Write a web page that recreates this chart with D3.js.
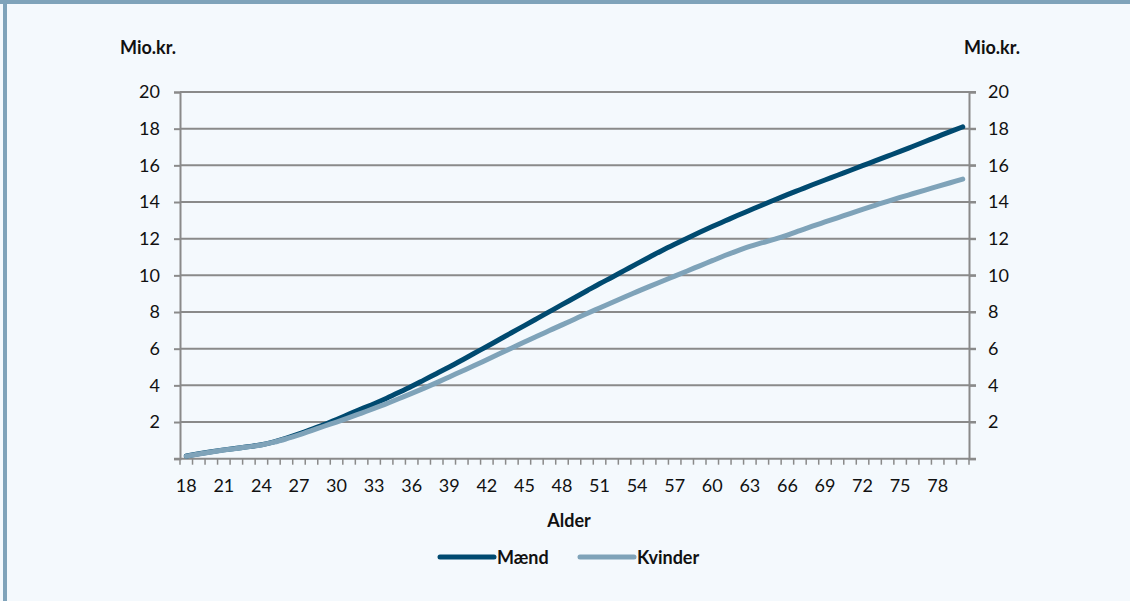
<!DOCTYPE html>
<html lang="da">
<head>
  <meta charset="UTF-8">
  <title>Mio.kr. efter alder</title>
  <script src="https://d3js.org/d3.v7.min.js"></script>
  <style>
    body {
      margin: 0;
      background: #fff;
      font-family: Lato, "Open Sans", sans-serif;
    }
    svg {
      display: block;
    }
    .tick text {
      font-family: Lato, sans-serif;
      font-size: 18px;
      fill: #111;
    }
    .title {
      font-family: Lato, sans-serif;
      font-size: 18px;
      font-weight: bold;
      fill: #111;
    }
  </style>
</head>
<body>
<svg width="1130" height="601"></svg>
<script>
  // Data
  const ages = d3.range(18, 81);
  const maend = [
    0.15, 0.27, 0.38, 0.48, 0.57, 0.66, 0.76, 0.92, 1.12, 1.35,
    1.6, 1.86, 2.14, 2.43, 2.72, 3.0, 3.3, 3.62, 3.95, 4.3,
    4.65, 5.0, 5.37, 5.75, 6.12, 6.5, 6.88, 7.26, 7.64, 8.02,
    8.4, 8.78, 9.16, 9.54, 9.9, 10.27, 10.64, 11.0, 11.36, 11.7,
    12.03, 12.35, 12.66, 12.96, 13.26, 13.55, 13.84, 14.12, 14.4, 14.67,
    14.94, 15.2, 15.46, 15.72, 15.98, 16.24, 16.5, 16.76, 17.03, 17.3,
    17.57, 17.84, 18.1
  ];
  const kvinder = [
    0.14, 0.26, 0.37, 0.47, 0.56, 0.65, 0.75, 0.9, 1.09, 1.3,
    1.53, 1.77, 2.0, 2.24, 2.49, 2.74, 3.0, 3.28, 3.56, 3.85,
    4.15, 4.46, 4.77, 5.08, 5.4, 5.72, 6.04, 6.36, 6.68, 6.99,
    7.3, 7.61, 7.92, 8.22, 8.52, 8.82, 9.11, 9.4, 9.68, 9.96,
    10.24, 10.52, 10.8, 11.08, 11.34, 11.58, 11.78, 11.98, 12.2, 12.44,
    12.68, 12.91, 13.14, 13.37, 13.6, 13.82, 14.04, 14.25, 14.45, 14.65,
    14.85, 15.05, 15.25
  ];
  const yTicks = [2, 4, 6, 8, 10, 12, 14, 16, 18, 20];
  const seriesNames = ["Mænd", "Kvinder"];
  const colors = ["#004a70", "#7fa3b9"];

  const svg = d3.select("svg");
  const W = 1130, H = 601;

  // Background panel with border
  svg.append("rect").attr("width", W).attr("height", H).attr("fill", "#f4f9fd");
  svg.append("rect").attr("x", 0).attr("y", 0).attr("width", W).attr("height", 4).attr("fill", "#7fa3ba");
  svg.append("rect").attr("x", 3).attr("y", 0).attr("width", 4).attr("height", H).attr("fill", "#7fa3ba");

  const plotL = 180, plotR = 969, plotT = 92, plotB = 458.7;

  const x = d3.scaleBand().domain(ages).range([plotL, plotR]).padding(0);
  const y = d3.scaleLinear().domain([0, 20]).range([plotB, plotT]);

  // Gridlines
  svg.append("g")
    .selectAll("line")
    .data(yTicks)
    .join("line")
    .attr("x1", plotL)
    .attr("x2", plotR + 7)
    .attr("y1", d => y(d))
    .attr("y2", d => y(d))
    .attr("stroke", "#8a8a8a")
    .attr("stroke-width", 2);

  // Left axis
  const yLeft = svg.append("g")
    .attr("transform", `translate(${plotL},0)`)
    .call(d3.axisLeft(y).tickValues([0].concat(yTicks)).tickSize(6).tickPadding(14)
      .tickFormat(d => d === 0 ? "" : d));
  // Right axis
  const yRight = svg.append("g")
    .attr("transform", `translate(${plotR},0)`)
    .call(d3.axisRight(y).tickValues([0].concat(yTicks)).tickSize(7).tickPadding(12)
      .tickFormat(d => d === 0 ? "" : d));

  // Bottom axis: ticks at band boundaries, labels every 3rd year
  const xAxis = svg.append("g").attr("transform", `translate(0,${plotB})`);
  xAxis.append("line")
    .attr("x1", plotL - 6).attr("x2", plotR + 7)
    .attr("stroke", "#8a8a8a").attr("stroke-width", 2);
  const bounds = ages.map(a => x(a)).concat([plotR]);
  xAxis.selectAll("line.mt")
    .data(bounds)
    .join("line")
    .attr("class", "mt")
    .attr("x1", d => d).attr("x2", d => d)
    .attr("y1", 0).attr("y2", 6)
    .attr("stroke", "#8a8a8a").attr("stroke-width", 1.5);
  xAxis.selectAll("text")
    .data(ages.filter(a => (a - 18) % 3 === 0))
    .join("text")
    .attr("x", d => x(d) + x.bandwidth() / 2)
    .attr("y", 33)
    .attr("text-anchor", "middle")
    .attr("font-family", "Lato, sans-serif")
    .attr("font-size", 18)
    .attr("fill", "#111")
    .text(d => d);

  [yLeft, yRight].forEach(g => {
    g.select(".domain").attr("stroke", "#8a8a8a").attr("stroke-width", 2);
    g.selectAll(".tick line").attr("stroke", "#8a8a8a").attr("stroke-width", 2);
  });

  // Lines (Kvinder drawn last, on top)
  const line = d3.line()
    .x((d, i) => x(ages[i]) + x.bandwidth() / 2)
    .y(d => y(d))
    .curve(d3.curveMonotoneX);

  [maend, kvinder].forEach((s, k) => {
    svg.append("path")
      .datum(s)
      .attr("fill", "none")
      .attr("stroke", colors[k])
      .attr("stroke-width", 5)
      .attr("stroke-linecap", "round")
      .attr("stroke-linejoin", "round")
      .attr("d", line);
  });

  // Titles
  svg.append("text").attr("class", "title").attr("x", 148).attr("y", 54).attr("text-anchor", "middle").text("Mio.kr.");
  svg.append("text").attr("class", "title").attr("x", 992).attr("y", 54).attr("text-anchor", "middle").text("Mio.kr.");
  svg.append("text").attr("class", "title").attr("x", 569).attr("y", 527).attr("text-anchor", "middle").text("Alder");

  // Legend
  const legendX = [440, 580];
  seriesNames.forEach((name, i) => {
    const g = svg.append("g").attr("transform", `translate(${legendX[i]},557)`);
    g.append("line")
      .attr("x1", 0).attr("x2", 54)
      .attr("stroke", colors[i]).attr("stroke-width", 5).attr("stroke-linecap", "round");
    g.append("text").attr("class", "title").attr("x", 57).attr("y", 7).text(name);
  });
</script>
</body>
</html>
